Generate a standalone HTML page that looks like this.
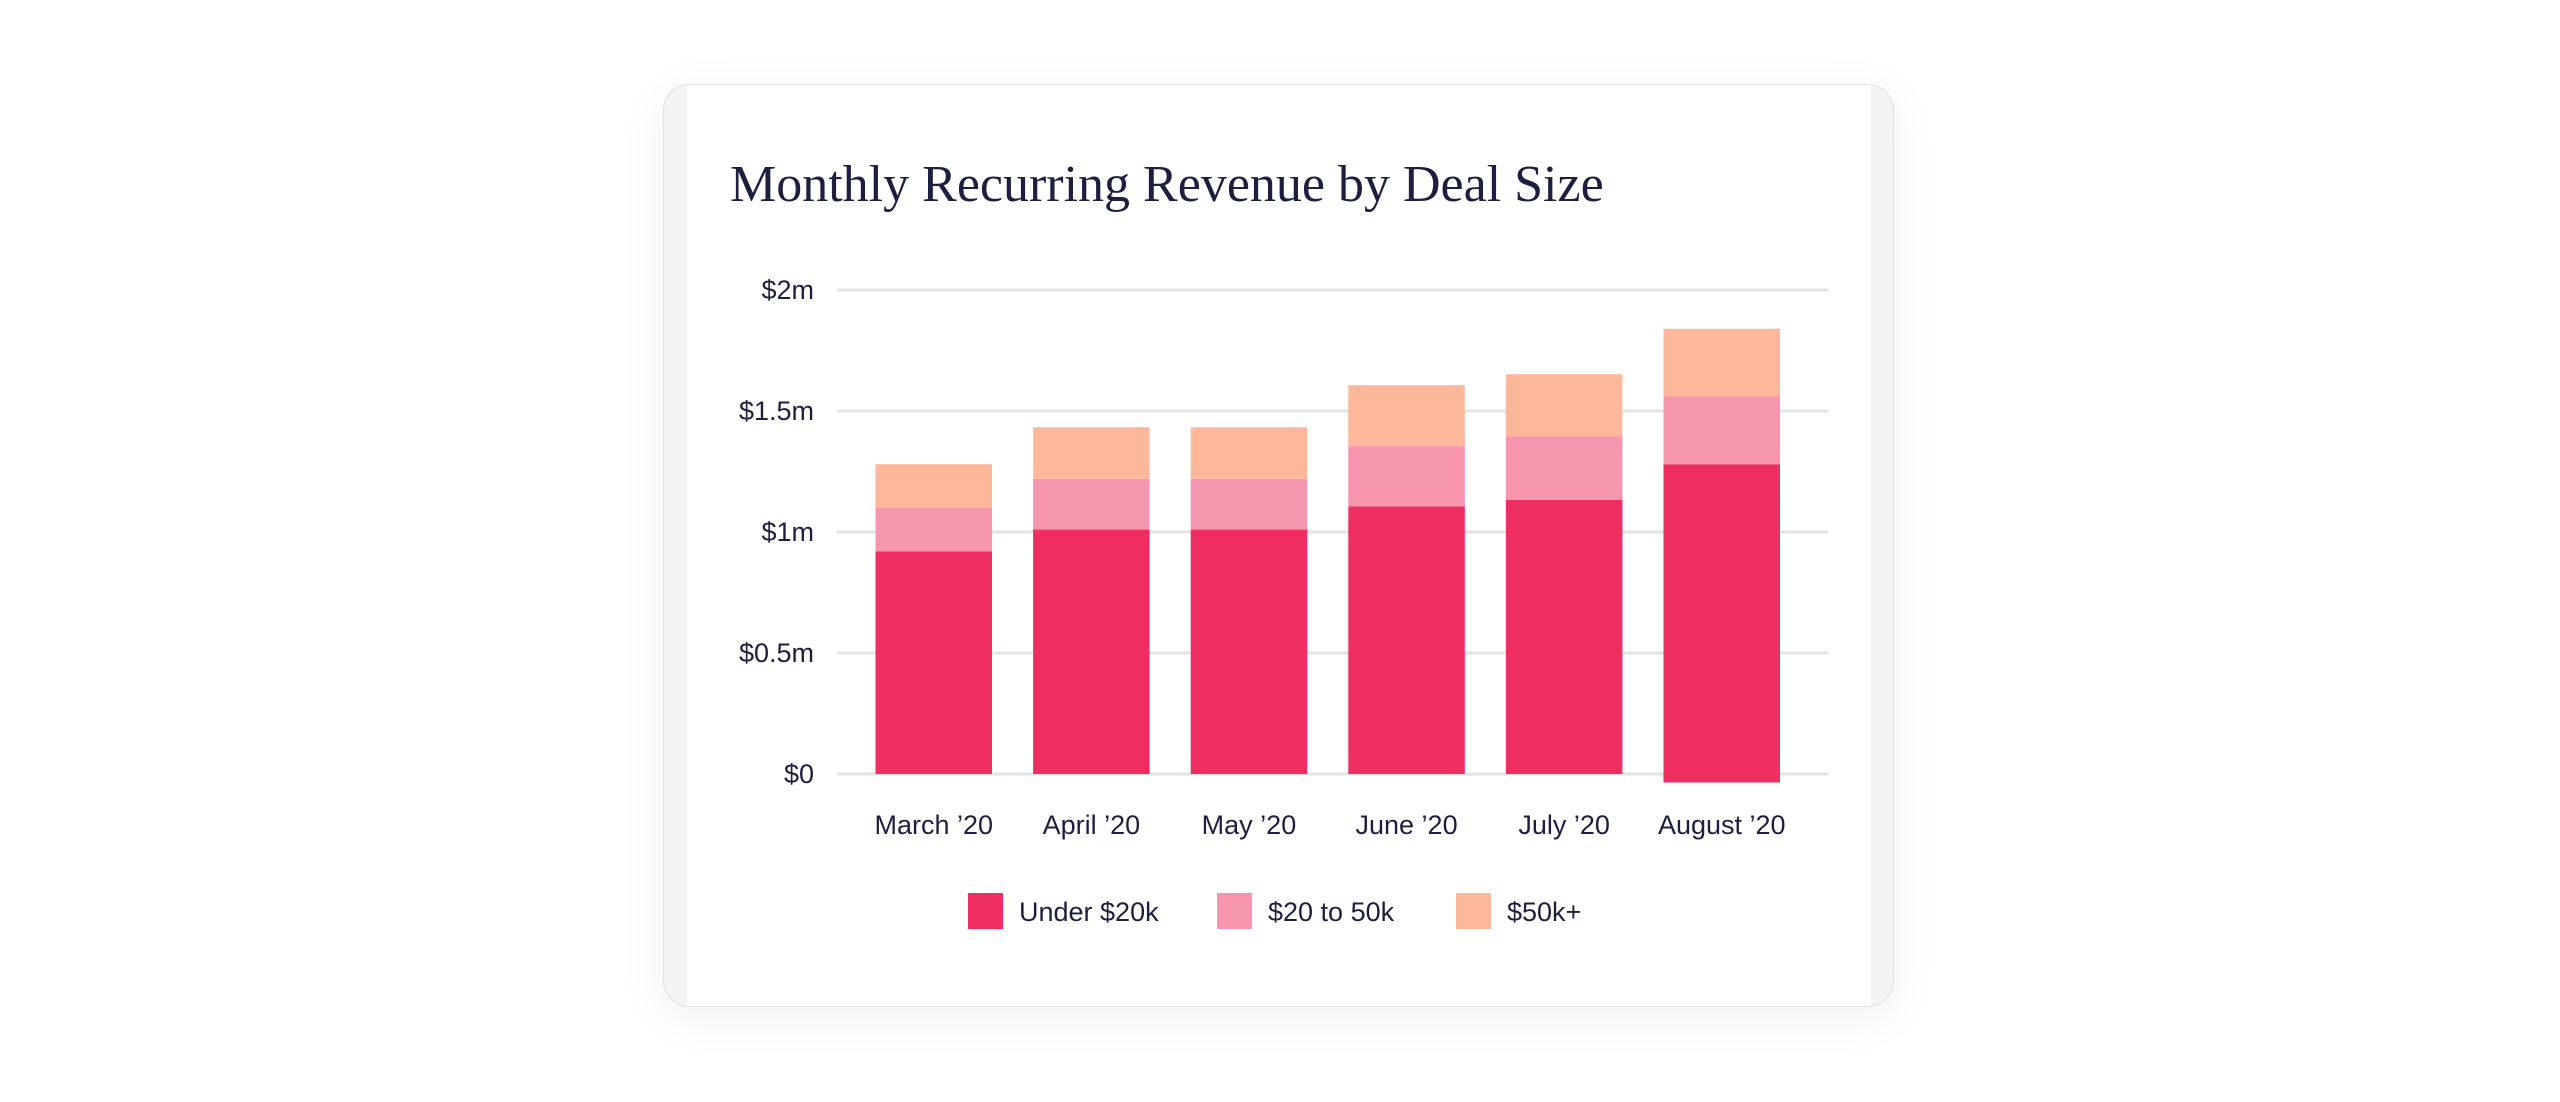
<!DOCTYPE html>
<html><head><meta charset="utf-8"><style>
html,body{margin:0;padding:0;background:#fff;width:2560px;height:1102px;overflow:hidden;}
#card{position:absolute;left:663px;top:84px;width:1231px;height:923px;border-radius:26px;background:#f3f3f3;border:1px solid #e2e2e2;box-sizing:border-box;box-shadow:0 10px 50px rgba(0,0,0,0.06);overflow:hidden;}
#inner{position:absolute;left:23px;top:0;width:1184px;height:923px;background:#fff;}
#title{position:absolute;left:730px;top:155px;font-family:"Liberation Serif",serif;font-size:52px;color:#1c1f3f;white-space:nowrap;}
svg{position:absolute;left:0;top:0;}
</style></head><body>
<div id="card"><div id="inner"></div></div>
<div id="title">Monthly Recurring Revenue by Deal Size</div>
<svg id="chart" width="2560" height="1102"></svg>
<script>
const categories=["March '20","April '20","May '20","June '20","July '20","August '20"];
const under20k=[0.92,1.01,1.01,1.106,1.133,1.315];
const mid20to50k=[0.18,0.21,0.21,0.249,0.262,0.28];
const over50k=[0.18,0.213,0.213,0.252,0.257,0.28];
const baseOffset=[0,0,0,0,0,-0.035];
const yTicks=[0,0.5,1,1.5,2];
const yTickLabels=["$0","$0.5m","$1m","$1.5m","$2m"];
const legendLabels=["Under $20k","$20 to 50k","$50k+"];
const colors=["#ee2d60","#f595ae","#fdb89b"];
const NS="http://www.w3.org/2000/svg";
const svg=document.getElementById('chart');
const y=v=>774-v*242;
const x=i=>875.5+i*157.6;
const bw=116.5;
function mk(t,a){const e=document.createElementNS(NS,t);for(const k in a)e.setAttribute(k,a[k]);svg.appendChild(e);return e;}
yTicks.forEach((t,i)=>{
 const l=mk('line',{x1:837,x2:1828,y1:y(t),y2:y(t),stroke:'#e3e3e3','stroke-width':3});
 
 
 const tx=mk('text',{x:814,y:y(t)+9,'text-anchor':'end','font-family':'Liberation Sans, sans-serif','font-size':27,'font-weight':500,fill:'#1c1f3f'});
 tx.textContent=yTickLabels[i];
 
 
});
categories.forEach((c,i)=>{
 const series=[under20k[i],mid20to50k[i],over50k[i]];
 let b=baseOffset[i];
 series.forEach((v,s)=>{
  const r=mk('rect',{x:x(i),y:y(b+v),width:bw,height:y(b)-y(b+v),fill:colors[s]});
  
  
  b+=v;
 });
 const t=mk('text',{x:x(i)+bw/2,y:834,'text-anchor':'middle','font-family':'Liberation Sans, sans-serif','font-size':27,'font-weight':500,fill:'#1c1f3f'});
 t.textContent=c.replace("'","\u2019");
 
 
});
const lx=[968,1217,1456];
legendLabels.forEach((l,i)=>{
 const r=mk('rect',{x:lx[i],y:893,width:35,height:36,fill:colors[i]});
 
 
 const t=mk('text',{x:lx[i]+51,y:921,'font-family':'Liberation Sans, sans-serif','font-size':27,fill:'#1c1f3f'});
 t.textContent=l;
 
 
});
</script>
</body></html>
